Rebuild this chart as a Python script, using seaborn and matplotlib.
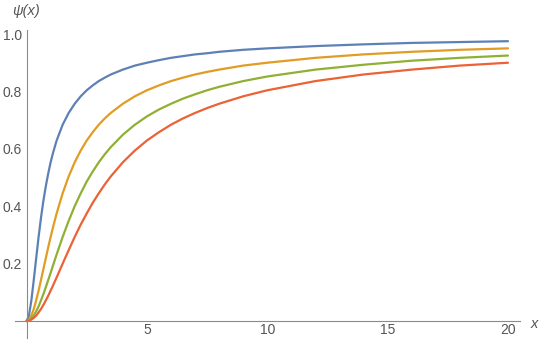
import matplotlib
matplotlib.use("Agg")
import matplotlib.pyplot as plt
from matplotlib.ticker import FixedLocator
import seaborn as sns
import pandas as pd

# ---- data ----
x_vals = [0, 0.1, 0.2, 0.3, 0.4, 0.5, 0.6, 0.7, 0.8, 0.9, 1.0, 1.1, 1.25, 1.5, 1.75,
          2, 2.25, 2.5, 2.75, 3, 3.25, 3.5, 4, 4.5, 5, 5.5, 6, 6.5, 7, 7.5, 8, 9,
          10, 12, 14, 16, 18, 20]
psi_1 = [0, .019, .072, .143, .219, .293, .360, .419, .470, .514, .553, .586, .629,
         .684, .725, .757, .783, .804, .821, .836, .848, .859, .876, .890, .900, .909,
         .917, .923, .929, .933, .938, .945, .950, .958, .964, .969, .972, .975]
psi_2 = [0, .005, .019, .042, .072, .106, .143, .181, .219, .257, .293, .327, .375,
         .445, .504, .553, .594, .629, .658, .684, .706, .725, .757, .783, .804, .821,
         .836, .848, .859, .868, .876, .890, .900, .917, .929, .938, .945, .950]
psi_3 = [0, .002, .009, .019, .034, .051, .072, .094, .118, .143, .168, .194, .232,
         .293, .349, .400, .445, .486, .521, .553, .581, .606, .649, .684, .713, .737,
         .757, .775, .790, .804, .816, .836, .852, .876, .893, .907, .917, .925]
psi_4 = [0, .001, .005, .011, .019, .030, .042, .056, .072, .088, .106, .124, .152,
         .200, .247, .293, .336, .375, .412, .445, .476, .504, .553, .594, .629, .658,
         .684, .706, .725, .742, .757, .783, .804, .836, .859, .876, .890, .900]
series_names = ["c1", "c2", "c3", "c4"]
colors = ["#5E81B5", "#E19C24", "#8FB032", "#EB6235"]

x_major = [5, 10, 15, 20]
x_minor = [1, 2, 3, 4, 6, 7, 8, 9, 11, 12, 13, 14, 16, 17, 18, 19]
y_major = [0.2, 0.4, 0.6, 0.8, 1.0]
y_minor = [0.05, 0.1, 0.15, 0.25, 0.3, 0.35, 0.45, 0.5, 0.55, 0.65, 0.7, 0.75,
           0.85, 0.9, 0.95]

frames = []
for name, ys in zip(series_names, [psi_1, psi_2, psi_3, psi_4]):
    frames.append(pd.DataFrame({"x": x_vals, "psi": ys, "series": name}))
df = pd.concat(frames, ignore_index=True)

sns.set_style("white")
plt.rcParams["font.family"] = ["Liberation Sans", "DejaVu Sans"]

W, H = 540, 344
fig = plt.figure(figsize=(W / 100, H / 100), dpi=100)
left_px, right_px, top_px, bottom_px = 15, 520, 30, 337.7
ax = fig.add_axes([left_px / W, 1 - bottom_px / H,
                   (right_px - left_px) / W, (bottom_px - top_px) / H])

sns.lineplot(data=df, x="x", y="psi", hue="series", palette=colors,
             linewidth=1.6, legend=False, ax=ax, sort=False)
for line in ax.get_lines():
    line.set_solid_joinstyle("round")
    line.set_solid_capstyle("round")

ax.set_xlim(-0.48, 20.5)
ax.set_ylim(-0.058, 1.014)

axis_col = "#8a8a8a"
label_col = "#555555"
for s in ["top", "right"]:
    ax.spines[s].set_visible(False)
ax.spines["left"].set_position(("data", 0))
ax.spines["bottom"].set_position(("data", 0))
for s in ["left", "bottom"]:
    ax.spines[s].set_color(axis_col)
    ax.spines[s].set_linewidth(0.8)

ax.xaxis.set_major_locator(FixedLocator(x_major))
ax.xaxis.set_minor_locator(FixedLocator(x_minor))
ax.yaxis.set_major_locator(FixedLocator(y_major))
ax.yaxis.set_minor_locator(FixedLocator(y_minor))
ax.set_xticklabels([str(v) for v in x_major])
ax.set_yticklabels([f"{v:.1f}" for v in y_major])

ax.tick_params(axis="both", which="major", direction="in", length=3.2, width=0.7,
               color=axis_col, labelcolor=label_col, labelsize=10)
ax.tick_params(axis="both", which="minor", direction="in", length=1.8, width=0.6,
               color=axis_col)
ax.tick_params(axis="x", which="major", pad=1.5)
ax.tick_params(axis="y", which="major", pad=3.5)
ax.set_xlabel("")
ax.set_ylabel("")
ax.grid(False)

fig.text(26 / W, 1 - 11 / H, "ψ(x)", ha="center", va="center", style="italic",
         color=label_col, fontsize=10.5)
fig.text(534 / W, 1 - 324 / H, "x", ha="center", va="center", style="italic",
         color=label_col, fontsize=10.5)

fig.savefig("out.png", dpi=100)
